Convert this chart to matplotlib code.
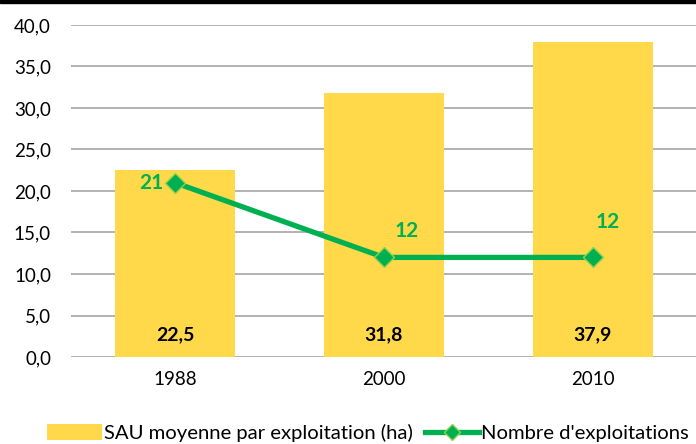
import matplotlib
matplotlib.use("Agg")
import matplotlib.pyplot as plt
from matplotlib.patches import Rectangle

years = ["1988", "2000", "2010"]
sau = [22.5, 31.8, 37.9]
nb_expl = [21, 12, 12]
sau_labels = ["22,5", "31,8", "37,9"]
yticks = [0, 5, 10, 15, 20, 25, 30, 35, 40]

plt.rcParams['font.family'] = ['Lato', 'DejaVu Sans']

fig = plt.figure(figsize=(6.96, 4.44), dpi=100)
ax = fig.add_axes([70.5/696, 1 - 357/444, (697.5-70.5)/696, 332/444])

x = list(range(len(years)))
bars = ax.bar(x, sau, width=0.57, color="#FFD94A", zorder=2,
              label="SAU moyenne par exploitation (ha)")
line, = ax.plot(x, nb_expl, color="#00B050", lw=3.8, marker="D", markersize=10,
                markerfacecolor="#00B050", markeredgecolor="#92D050",
                markeredgewidth=1, zorder=3, label="Nombre d'exploitations")

for xi, lab in zip(x, sau_labels):
    ax.text(xi, 2.7, lab, ha="center", va="center", fontsize=14,
            fontweight="bold", color="black", zorder=4)

offsets = [(-24, 0), (23, 26), (15, 35)]
for xi, v, (dx, dy) in zip(x, nb_expl, offsets):
    ax.annotate(str(v), (xi, v), xytext=(dx, dy), textcoords="offset pixels",
                ha="center", va="center", fontsize=15, fontweight="bold",
                color="#00B050", zorder=4)

ax.set_ylim(0, 40)
ax.set_xlim(-0.5, 2.5)
ax.set_yticks(yticks)
ax.set_yticklabels([f"{t:.1f}".replace(".", ",") for t in yticks])
ax.set_xticks(x)
ax.set_xticklabels(years)
ax.tick_params(axis="both", length=0, labelsize=13.5, colors="black")
ax.tick_params(axis="y", pad=14)
ax.tick_params(axis="x", pad=10)
ax.yaxis.grid(True, color="#A6A6A6", lw=1.2, zorder=0)
ax.set_axisbelow(True)
for s in ax.spines.values():
    s.set_visible(False)

fig.legend(handles=[bars, line], loc="center", bbox_to_anchor=(368/696, 1 - 433/444),
           ncol=2, frameon=False, fontsize=14.6, handlelength=2.7, handleheight=0.8,
           handletextpad=0.1, columnspacing=0.6, markerscale=0.8)

fig.patches.append(Rectangle((0, 1 - 3/444), 1, 3/444, transform=fig.transFigure,
                             color="black", zorder=10))

fig.savefig("out.png", dpi=100)
